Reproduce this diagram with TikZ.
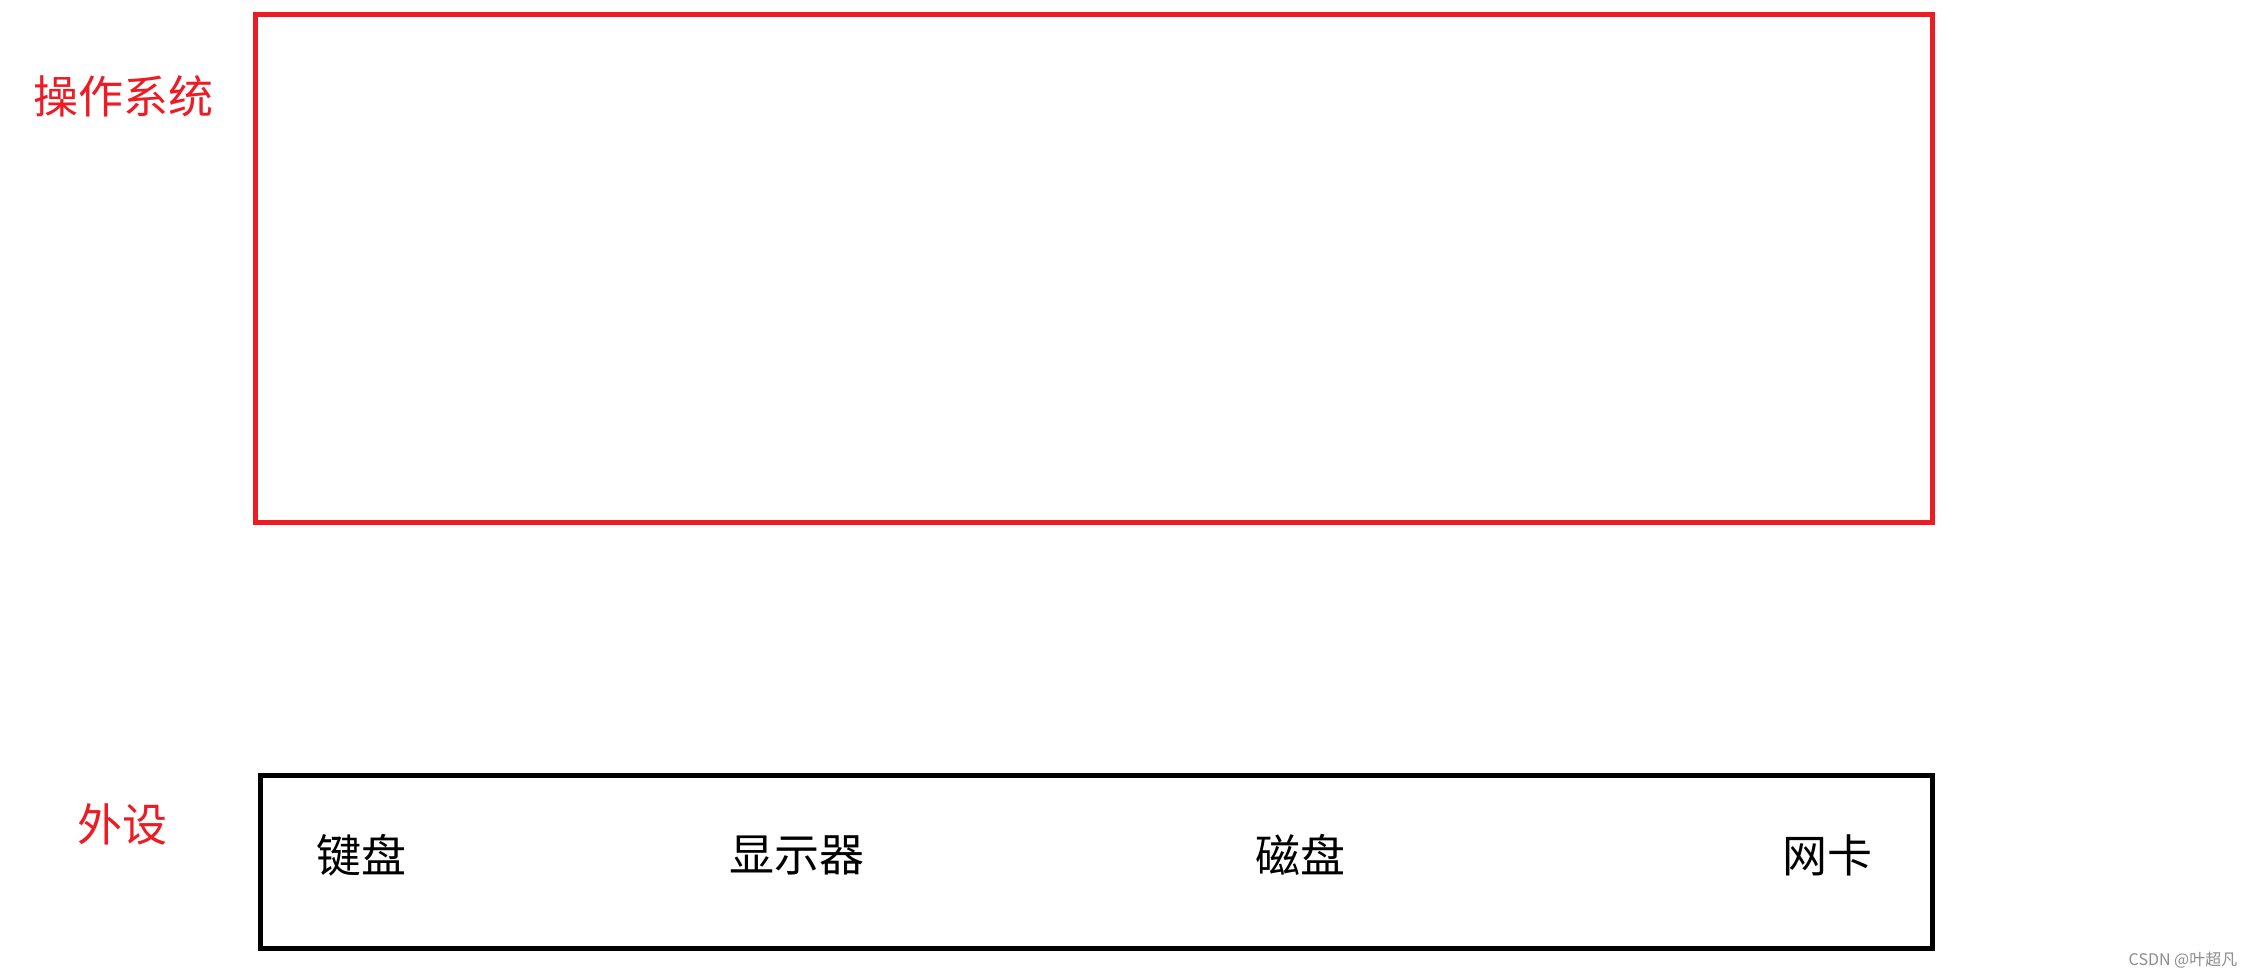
\documentclass[tikz,border=0pt]{standalone}
\usepackage{fontspec}
\newfontfamily\cjk{Noto Sans CJK SC}
\definecolor{osred}{RGB}{237,28,36}
\begin{document}
\begin{tikzpicture}[x=1pt,y=-1pt,
  boxstyle/.style={draw,line width=5pt,inner sep=0pt,outer sep=0pt},
  bigtext/.style={inner sep=0pt,font=\cjk\fontsize{45}{50}\selectfont},
  marktext/.style={inner sep=0pt,text=black!45,font=\cjk\fontsize{16}{18}\selectfont}]
\useasboundingbox[fill=white] (0,0) rectangle (2249,977);
\node[boxstyle,draw=osred,minimum width=1677pt,minimum height=508pt] (os) at (1094,268.5) {};
\node[boxstyle,draw=black,minimum width=1672pt,minimum height=173pt] (dev) at (1096.5,862) {};
\node[bigtext,text=osred] (oslabel) at (124,96) {操作系统};
\node[bigtext,text=osred] (devlabel) at (122,824) {外设};
\node[bigtext] (kb) at (361.5,855) {键盘};
\node[bigtext] (disp) at (797,855) {显示器};
\node[bigtext] (disk) at (1300,855) {磁盘};
\node[bigtext] (nic) at (1827,855) {网卡};
\node[marktext] (wm) at (2183,960) {CSDN @叶超凡};
\end{tikzpicture}
\end{document}
